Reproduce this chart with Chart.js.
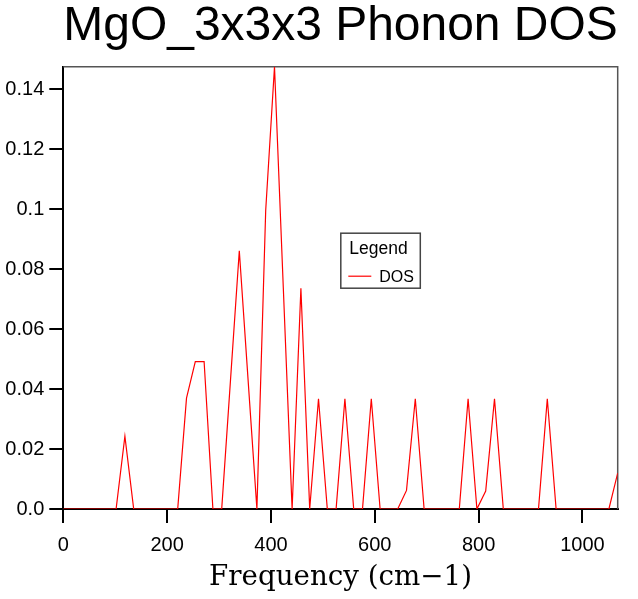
<!DOCTYPE html>
<html>
<head>
<meta charset="utf-8">
<script src="https://cdn.jsdelivr.net/npm/chart.js@4/dist/chart.umd.min.js"></script>
<style>
  html, body { margin: 0; padding: 0; background: #ffffff; }
  #wrap { width: 638px; height: 599px; }
</style>
</head>
<body>
<div id="wrap"><canvas id="c" width="638" height="599"></canvas></div>
<script>
// ---- data ----
const chartTitle = 'MgO_3x3x3 Phonon DOS';
const xTitle = 'Frequency (cm\u22121)';
const seriesName = 'DOS';
const frequencies = [
  0, 16.95, 33.9, 50.85, 67.8, 84.75, 101.7, 118.65, 135.6, 152.55,
  169.5, 186.45, 203.4, 220.35, 237.3, 254.25, 271.2, 288.15, 305.1, 322.05,
  339, 355.95, 372.9, 389.85, 406.8, 423.75, 440.7, 457.65, 474.6, 491.55,
  508.5, 525.45, 542.4, 559.35, 576.3, 593.25, 610.2, 627.15, 644.1, 661.05,
  678, 694.95, 711.9, 728.85, 745.8, 762.75, 779.7, 796.65, 813.6, 830.55,
  847.5, 864.45, 881.4, 898.35, 915.3, 932.25, 949.2, 966.15, 983.1, 1000.05,
  1017, 1033.95, 1050.9, 1067.85
];
const dos = [
  0, 0, 0, 0, 0, 0, 0, 0.0243, 0, 0,
  0, 0, 0, 0, 0.037, 0.0492, 0.0492, 0, 0, 0.043,
  0.0862, 0.043, 0, 0.0996, 0.1476, 0.0738, 0, 0.0737, 0, 0.0368,
  0, 0, 0.0368, 0, 0, 0.0368, 0, 0, 0, 0.0062,
  0.0368, 0, 0, 0, 0, 0, 0.0368, 0, 0.006, 0.0368,
  0, 0, 0, 0, 0, 0.0368, 0, 0, 0, 0,
  0, 0, 0, 0.012
];
const xTickValues = [0, 200, 400, 600, 800, 1000];
const yTickValues = [0, 0.02, 0.04, 0.06, 0.08, 0.1, 0.12, 0.14];
const yTickLabels = ['0.0', '0.02', '0.04', '0.06', '0.08', '0.1', '0.12', '0.14'];
const xRange = [0, 1067.85];
const yRange = [0, 0.1476];

// fit the serif axis-title font to the reference text width
const xTitleFamily = '"DejaVu Serif", "Liberation Serif", serif';
const mctx = document.createElement('canvas').getContext('2d');
mctx.font = '27px ' + xTitleFamily;
const xTitleSize = Math.min(30, 27 * 263 / mctx.measureText(xTitle).width);

// ---- plugins: frame (top/right) and boxed legend ----
const framePlugin = {
  id: 'frame',
  beforeDatasetsDraw(chart) {
    const {ctx, chartArea: a} = chart;
    ctx.save();
    ctx.strokeStyle = '#555555';
    ctx.lineWidth = 1.5;
    ctx.beginPath();
    ctx.moveTo(a.left, a.top);
    ctx.lineTo(a.right, a.top);
    ctx.lineTo(a.right, a.bottom);
    ctx.stroke();
    ctx.restore();
  }
};

const boxLegendPlugin = {
  id: 'boxLegend',
  afterDraw(chart) {
    const {ctx, chartArea: a} = chart;
    const ds = chart.data.datasets[0];
    const x0 = a.left + 277.5, y0 = a.top + 166.5;
    const w = 79.5, h = 55;
    ctx.save();
    ctx.fillStyle = '#ffffff';
    ctx.fillRect(x0, y0, w, h);
    ctx.strokeStyle = '#444444';
    ctx.lineWidth = 1.5;
    ctx.strokeRect(x0, y0, w, h);
    ctx.fillStyle = '#000000';
    ctx.textBaseline = 'alphabetic';
    ctx.textAlign = 'left';
    ctx.font = '17.5px "Liberation Sans", Arial, sans-serif';
    ctx.fillText('Legend', x0 + 8.5, y0 + 21);
    ctx.strokeStyle = ds.borderColor;
    ctx.lineWidth = 1.2;
    ctx.beginPath();
    ctx.moveTo(x0 + 7.5, y0 + 43);
    ctx.lineTo(x0 + 30.5, y0 + 43);
    ctx.stroke();
    ctx.font = '16px "Liberation Sans", Arial, sans-serif';
    ctx.fillText(ds.label, x0 + 38.5, y0 + 49);
    ctx.restore();
  }
};

const points = frequencies.map((f, i) => ({x: f, y: dos[i]}));

new Chart(document.getElementById('c'), {
  type: 'line',
  data: {
    datasets: [{
      label: seriesName,
      data: points,
      borderColor: '#ff0000',
      borderWidth: 1.2,
      pointRadius: 0,
      tension: 0,
      fill: false
    }]
  },
  options: {
    responsive: false,
    animation: false,
    events: [],
    layout: { padding: { left: 0, right: 20.3, top: 0, bottom: 0 } },
    plugins: {
      legend: { display: false },
      tooltip: { enabled: false },
      title: {
        display: true,
        text: chartTitle,
        fullSize: false,
        color: '#000000',
        font: { family: '"Liberation Sans", Arial, sans-serif', size: 48, weight: 'normal', lineHeight: 1.0 },
        padding: { top: 2.5, bottom: 16.2 }
      }
    },
    scales: {
      x: {
        type: 'linear',
        min: xRange[0],
        max: xRange[1],
        z: 1,
        afterFit(s) { s.height = 90; },
        afterBuildTicks(s) { s.ticks = xTickValues.map(v => ({value: v})); },
        ticks: {
          includeBounds: false,
          autoSkip: false,
          maxRotation: 0,
          color: '#000000',
          padding: 10,
          font: { family: '"Liberation Sans", Arial, sans-serif', size: 20 },
          callback: (v) => String(v)
        },
        grid: { drawOnChartArea: false, drawTicks: true, tickLength: 14, color: '#000000', lineWidth: 2 },
        border: { display: true, color: '#000000', width: 2 },
        title: {
          display: true,
          text: xTitle,
          color: '#000000',
          font: { family: xTitleFamily, size: xTitleSize, weight: 'normal', lineHeight: 1.2 },
          padding: { top: 0, bottom: 4.5 }
        }
      },
      y: {
        type: 'linear',
        min: yRange[0],
        max: yRange[1],
        z: 1,
        afterFit(s) { s.width = 63.3; },
        afterBuildTicks(s) { s.ticks = yTickValues.map(v => ({value: v})); },
        ticks: {
          includeBounds: false,
          autoSkip: false,
          color: '#000000',
          padding: 5,
          font: { family: '"Liberation Sans", Arial, sans-serif', size: 20 },
          callback: (v) => {
            const i = yTickValues.findIndex(t => Math.abs(t - v) < 1e-9);
            return i >= 0 ? yTickLabels[i] : '';
          }
        },
        grid: { drawOnChartArea: false, drawTicks: true, tickLength: 14, color: '#000000', lineWidth: 2 },
        border: { display: true, color: '#000000', width: 2 }
      }
    }
  },
  plugins: [framePlugin, boxLegendPlugin]
});
</script>
</body>
</html>
